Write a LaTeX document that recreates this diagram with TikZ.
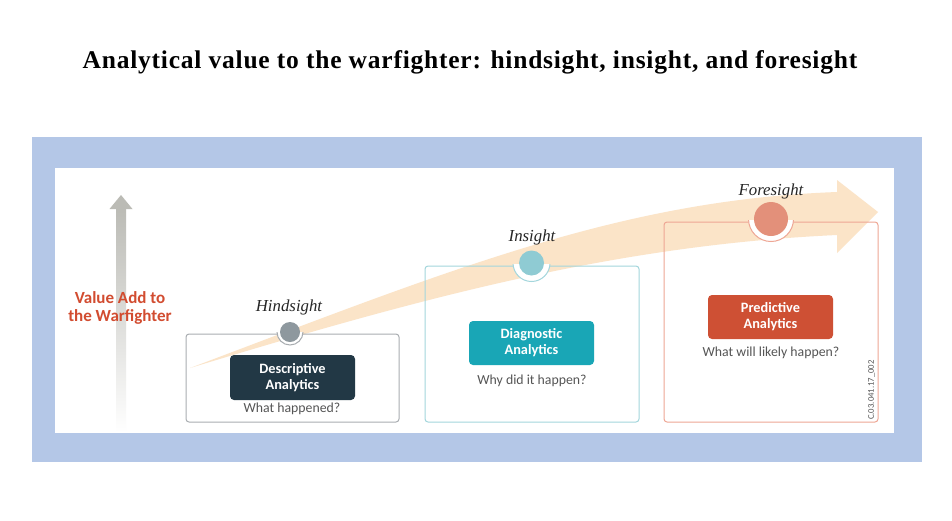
\documentclass[tikz,border=0pt]{standalone}
\usepackage{fontspec}
\setmainfont{Liberation Serif}
\newfontfamily\calfont{Carlito}
\newfontfamily\titlefont[LetterSpace=3]{Liberation Serif}
\usetikzlibrary{positioning}

\definecolor{frameblue}{HTML}{B4C7E7}
\definecolor{bandpeach}{HTML}{FBE4C8}
\definecolor{arrowgray}{HTML}{BBBBB5}
\definecolor{valuered}{HTML}{D24C30}
\definecolor{textgray}{HTML}{555555}
\definecolor{hindline}{HTML}{A9ADB1}
\definecolor{insline}{HTML}{A3D6DC}
\definecolor{foreline}{HTML}{EEA694}
\definecolor{hinddotc}{HTML}{8E989E}
\definecolor{insdotc}{HTML}{8FCBD3}
\definecolor{foredotc}{HTML}{E3907A}
\definecolor{darkslate}{HTML}{223845}
\definecolor{tealbox}{HTML}{19A6B6}
\definecolor{redbox}{HTML}{CE5034}

\tikzset{
    outline/.style={
           rectangle,
           rounded corners=3pt,
           line width=1pt,
           inner sep=0pt,
           },
    tag/.style={
           rectangle,
           rounded corners=4pt,
           minimum width=125pt,
           minimum height=44pt,
           inner sep=2pt,
           align=center,
           text=white,
           font=\calfont\bfseries\fontsize{14.3}{16}\selectfont,
           },
    dot/.style={circle, inner sep=0pt},
    sight/.style={font=\itshape\fontsize{16.8}{19}\selectfont, text=black!85},
    question/.style={font=\calfont\fontsize{13.8}{15}\selectfont, text=textgray},
}

\begin{document}
\begin{tikzpicture}[x=1pt,y=-1pt]
    \useasboundingbox (0,0) rectangle (952,520);

    % title
    \node[font=\titlefont\bfseries\fontsize{25.5}{28}\selectfont] (title) at (470,62)
    {Analytical value to the warfighter: hindsight, insight, and foresight};

    % blue frame and white panel
    \fill[frameblue] (32,137) rectangle (922,462);
    \fill[white] (55,168) rectangle (894,433);

    % value axis (fades out downwards)
    \shade[top color=arrowgray, bottom color=white] (116,208) rectangle (126,432);
    \fill[arrowgray] (109.5,209) -- (121,195) -- (132.5,209) -- cycle;
    \node[font=\calfont\bfseries\fontsize{17}{18}\selectfont,
    text=valuered, align=center] (valueadd) at (120,308)
    {Value Add to\\the Warfighter};

    % the wide rising arrow behind the boxes
    \fill[bandpeach] (190,368) .. controls (450,270) and (620,200) .. (837,192)
        -- (837,180) -- (878,212) -- (837,253) -- (837,235)
        .. controls (620,245) and (430,295) .. (190,368) -- cycle;

    % outer boxes
    \node[outline, draw=hindline, minimum width=213pt, minimum height=88pt] (hindbox) at (292.5,378) {};
    \node[outline, draw=insline, minimum width=214pt, minimum height=156pt] (insbox) at (532,344) {};
    \node[outline, draw=foreline, minimum width=214pt, minimum height=200pt] (forebox) at (771,322) {};

    \coordinate (hindc) at (290,332);
    \coordinate (insc) at (531.5,263);
    \coordinate (forec) at (771,219);

    % notch round each dot
    \foreach \b/\c/\r/\col in {hindbox/hindc/13pt/hindline,
                               insbox/insc/18.5pt/insline,
                               forebox/forec/22.5pt/foreline}
    {
        \begin{scope}
            \clip ([yshift=1pt]\b.north west) rectangle (\b.south east);
            \fill[white] (\c) circle[radius=\r];
            \draw[line width=1pt, draw=\col] (\c) circle[radius=\r];
        \end{scope}
    }

    % dots
    \node[dot, fill=hinddotc, minimum size=20pt] (hinddot) at (hindc) {};
    \node[dot, fill=insdotc, minimum size=25pt] (insdot) at (insc) {};
    \node[dot, fill=foredotc, minimum size=34pt] (foredot) at (forec) {};

    % stage names
    \node[sight] (hindsight) at (289,307) {Hindsight};
    \node[sight] (insight) at (532,237) {Insight};
    \node[sight] (foresight) at (771,191) {Foresight};

    % analytics boxes
    \node[tag, fill=darkslate, minimum height=45pt] (descr) at (292.5,377.5) {Descriptive\\Analytics};
    \node[tag, fill=tealbox] (diag) at (531.5,343) {Diagnostic\\Analytics};
    \node[tag, fill=redbox] (pred) at (770.5,317) {Predictive\\Analytics};

    % questions
    \node[question] (whathap) at (292,409) {What happened?};
    \node[question] (whyhap) at (532,381) {Why did it happen?};
    \node[question] (willhap) at (771,353) {What will likely happen?};

    % figure code
    \node[rotate=90, font=\calfont\fontsize{8.7}{9}\selectfont, text=textgray] (figcode) at (871.5,390) {C.03.041.17\_002};
\end{tikzpicture}
\end{document}
